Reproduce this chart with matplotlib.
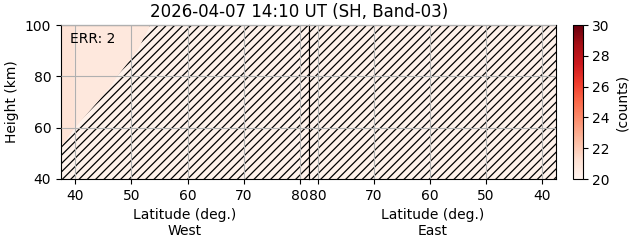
import numpy as np
import matplotlib
matplotlib.use("Agg")
import matplotlib.pyplot as plt
from matplotlib.colors import Normalize

# ---- data ----
title = "2026-04-07 14:10 UT (SH, Band-03)"
err_text = "ERR: 2"
height_range = [40, 100]
lat_range_west = [37.5, 81.6]
lat_range_east = [81.6, 37.5]
xticks = [40, 50, 60, 70, 80]
yticks = [40, 60, 80, 100]
cbar_ticks = [20, 22, 24, 26, 28, 30]
vmin, vmax = 20, 30

# west-side count field (latitude bin edges, values per bin)
west_lat_edges = [37.5, 39.8, 81.6]
west_values = [21.1, 20.8]
# east-side count field
east_lat_edges = [37.5, 81.6]
east_values = [20.2]
# value shown under hatched (flagged) area
flag_value = 20.2

# boundary of the hatched (flagged) region on the west side
bound_heights = [40, 52.5, 60, 70, 76, 80, 90, 100]
bound_lats = [37.0, 37.5, 40.0, 44.0, 46.3, 47.5, 51.1, 53.4]

cmap = plt.get_cmap("Reds")
norm = Normalize(vmin=vmin, vmax=vmax)

plt.rcParams["hatch.linewidth"] = 0.9

fig = plt.figure(figsize=(6.31, 2.43), dpi=100)
axw = fig.add_axes([61/631, 1-179/243, 248/631, 154/243])
axe = fig.add_axes([309/631, 1-179/243, 247/631, 154/243], sharey=axw)
cax = fig.add_axes([572.5/631, 1-179/243, 10/631, 154/243])

# west panel
Xw, Yw = np.meshgrid(west_lat_edges, height_range)
axw.pcolormesh(Xw, Yw, np.array([west_values]), cmap=cmap, norm=norm)
axw.fill_betweenx(bound_heights, bound_lats, lat_range_west[1] + 1,
                  facecolor=cmap(norm(flag_value)), edgecolor="black",
                  hatch="////", linewidth=0)
axw.set_xlim(lat_range_west)
axw.set_ylim(height_range)
axw.set_xticks(xticks)
axw.set_yticks(yticks)
axw.set_ylabel("Height (km)")
axw.set_xlabel("Latitude (deg.)\nWest")
axw.text(0.035, 0.955, err_text, transform=axw.transAxes, ha="left", va="top",
         fontsize=10)

# east panel
Xe, Ye = np.meshgrid(east_lat_edges, height_range)
axe.pcolormesh(Xe, Ye, np.array([east_values]), cmap=cmap, norm=norm)
axe.fill_betweenx(height_range, east_lat_edges[0] - 1, east_lat_edges[-1] + 1,
                  facecolor=cmap(norm(flag_value)), edgecolor="black",
                  hatch="////", linewidth=0)
axe.set_xlim(lat_range_east)
axe.set_xticks(xticks)
axe.set_xlabel("Latitude (deg.)\nEast")
axe.tick_params(axis="y", left=False, labelleft=False)

for ax in (axw, axe):
    ax.grid(True, color="#b0b0b0", linewidth=0.8)
    ax.set_axisbelow(False)

cb = fig.colorbar(plt.cm.ScalarMappable(norm=norm, cmap=cmap), cax=cax)
cb.set_ticks(cbar_ticks)
cb.set_label("(counts)")

fig.text(299/631, 1-12/243, title, ha="center", va="center", fontsize=12)

fig.savefig("out.png", dpi=100)
